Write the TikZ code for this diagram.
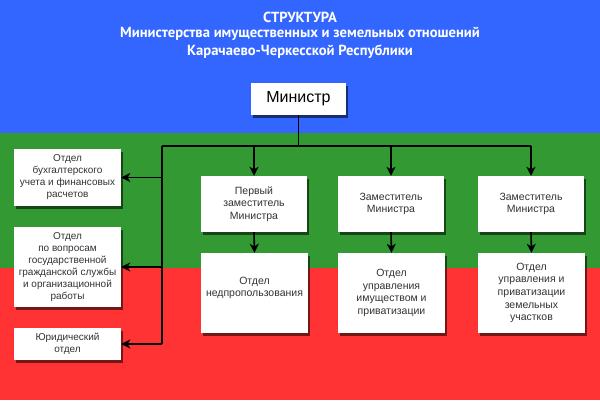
\documentclass[tikz,border=0pt]{standalone}
\usepackage{fontspec}
\setmainfont{Liberation Sans}
\newfontfamily\titlefont{PT Sans}
\usetikzlibrary{arrows.meta,shadows}
\definecolor{bandblue}{HTML}{3366FF}
\definecolor{bandgreen}{HTML}{339933}
\definecolor{bandred}{HTML}{FF3333}
\definecolor{boxtext}{HTML}{333333}
\tikzset{
  box/.style={draw=none,fill=white,inner sep=1pt,align=center,text=boxtext,
    drop shadow={shadow xshift=2pt,shadow yshift=-2.5pt,opacity=0.55,fill=black}},
  smalltext/.style={font=\fontsize{10}{12}\selectfont},
  midtext/.style={font=\fontsize{10.5}{12.6}\selectfont},
  titletext/.style={text=white,font=\titlefont\bfseries\fontsize{14.6}{17}\selectfont},
  conn/.style={line width=1.6pt,black},
  arr/.style={conn,-{Stealth[length=9pt,width=9pt,inset=2.5pt]}}
}
\begin{document}
\begin{tikzpicture}[x=1pt,y=-1pt]
\useasboundingbox (0,0) rectangle (600,400);
\fill[bandblue] (0,0) rectangle (600,133);
\fill[bandgreen] (0,133) rectangle (600,268);
\fill[bandred] (0,268) rectangle (600,400);

\node[titletext] (t1) at (300,17) {СТРУКТУРА};
\node[titletext] (t2) at (300,34) {Министерства имущественных и земельных отношений};
\node[titletext] (t3) at (300,52) {Карачаево-Черкесской Республики};

\node[box,minimum width=95pt,minimum height=32pt,text=black,font=\fontsize{16}{19}\selectfont] (min) at (298.5,99) {Министр};

\node[box,smalltext,minimum width=107pt,minimum height=57pt] (l1) at (67.5,177.5) {Отдел\\бухгалтерского\\учета и финансовых\\расчетов};
\node[box,smalltext,minimum width=107pt,minimum height=80pt] (l2) at (67.5,267) {Отдел\\по вопросам\\государственной\\гражданской службы\\и организационной\\работы};
\node[box,smalltext,minimum width=107pt,minimum height=32pt] (l3) at (67.5,344) {Юридический\\отдел};

\node[box,midtext,minimum width=106pt,minimum height=56pt] (d1) at (254,204) {Первый\\заместитель\\Министра};
\node[box,midtext,minimum width=106pt,minimum height=56pt] (d2) at (391,204) {Заместитель\\Министра};
\node[box,midtext,minimum width=106pt,minimum height=56pt] (d3) at (531,204) {Заместитель\\Министра};

\node[box,midtext,minimum width=107pt,minimum height=80pt] (o1) at (254.5,293) {};
\node[midtext,align=center,text=boxtext] (o1t) at (254.5,288) {Отдел\\недпропользования};
\node[box,midtext,minimum width=107pt,minimum height=80pt] (o2) at (391.5,293) {Отдел\\управления\\имуществом и\\приватизации};
\node[box,midtext,minimum width=107pt,minimum height=80pt] (o3) at (531.5,293) {Отдел\\управления и\\приватизации\\земельных\\участков};

\coordinate (busL) at (162,146);
\coordinate (busR) at (531,146);
\coordinate (busM) at (298.5,146);

\draw[conn] (min.south) -- (busM);
\draw[conn] (busL) -- (busR);
\draw[conn] (busL) -- (busL |- l3.east);
\draw[arr] (busL |- l1.east) -- (l1.east);
\draw[arr] (busL |- l2.east) -- (l2.east);
\draw[arr] (busL |- l3.east) -- (l3.east);
\draw[arr] (d1.north |- busL) -- (d1.north);
\draw[arr] (d2.north |- busL) -- (d2.north);
\draw[arr] (d3.north |- busL) -- (d3.north);
\draw[arr] (d1.south) -- (o1.north);
\draw[arr] (d2.south) -- (o2.north);
\draw[arr] (d3.south) -- (o3.north);
\end{tikzpicture}
\end{document}
